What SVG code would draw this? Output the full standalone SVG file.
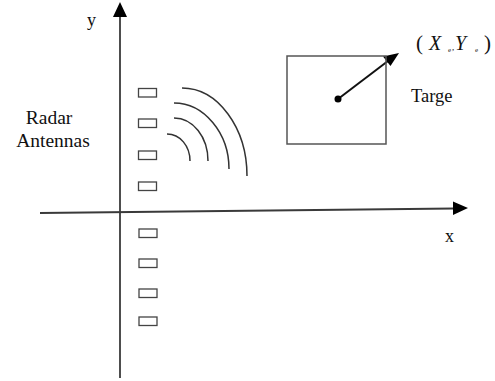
<svg xmlns="http://www.w3.org/2000/svg" width="495" height="381" viewBox="0 0 495 381">
<style>
.ax{stroke:#3a3a3a;stroke-width:1.8;fill:none}
.ant{fill:#fff;stroke:#444;stroke-width:1.3}
.arc{fill:none;stroke:#333;stroke-width:1.5}
.t{fill:#111;font-family:"Liberation Serif","DejaVu Serif",serif}
.it{font-style:italic}
</style>
<rect width="495" height="381" fill="#fff"/>
<g id="connectors">
<path class="ax" d="M120,378 L120,16"/>
<path d="M120,2 L127,17 L113,17 Z" fill="#000"/>
<path class="ax" d="M40,213 L454,208.5"/>
<path d="M468,208 L453,201.5 L453,215 Z" fill="#000"/>
<line x1="338" y1="99" x2="388" y2="61" stroke="#111" stroke-width="2"/>
<path d="M399,53 L383,56.5 L390.5,66 Z" fill="#000"/>
</g>
<g id="antennas">
<rect class="ant" x="138.5" y="88.5" width="18" height="8.5"/>
<rect class="ant" x="138.5" y="119" width="18" height="8.5"/>
<rect class="ant" x="138.5" y="151" width="18" height="8.5"/>
<rect class="ant" x="138.5" y="182" width="18" height="8.5"/>
<rect class="ant" x="139" y="229" width="18" height="8.5"/>
<rect class="ant" x="139" y="259" width="18" height="8.5"/>
<rect class="ant" x="139" y="289" width="18" height="8.5"/>
<rect class="ant" x="139" y="317" width="18" height="8.5"/>
</g>
<g id="waves">
<path class="arc" d="M182,88 C218,88 247,128 247,176"/>
<path class="arc" d="M174,103 C204,103 229,133 229,169"/>
<path class="arc" d="M174,118 C193,118 208,137 208,161"/>
<path class="arc" d="M167,134 C180,134 190,146 190,161"/>
</g>
<g id="target">
<rect x="287" y="56" width="99" height="88" fill="none" stroke="#555" stroke-width="1.5"/>
<circle cx="338" cy="99" r="3.5" fill="#000"/>
</g>
<g id="labels">
<text class="t" x="87" y="26" font-size="18">y</text>
<text class="t" x="445" y="242" font-size="18">x</text>
<text class="t" x="49" y="124" font-size="19.5" text-anchor="middle">Radar</text>
<text class="t" x="53" y="147" font-size="19.5" text-anchor="middle">Antennas</text>
<text class="t" x="411" y="102" font-size="18.5">Targe</text>
<text class="t" x="416" y="50" font-size="21">(</text>
<text class="t it" x="429" y="50" font-size="20">X</text>
<text class="t" x="448" y="52" font-size="7">e</text>
<text class="t" x="452" y="50" font-size="9">,</text>
<text class="t it" x="455" y="50" font-size="20">Y</text>
<text class="t" x="475" y="52" font-size="7">e</text>
<text class="t" x="484" y="50" font-size="21">)</text>
</g>
</svg>
